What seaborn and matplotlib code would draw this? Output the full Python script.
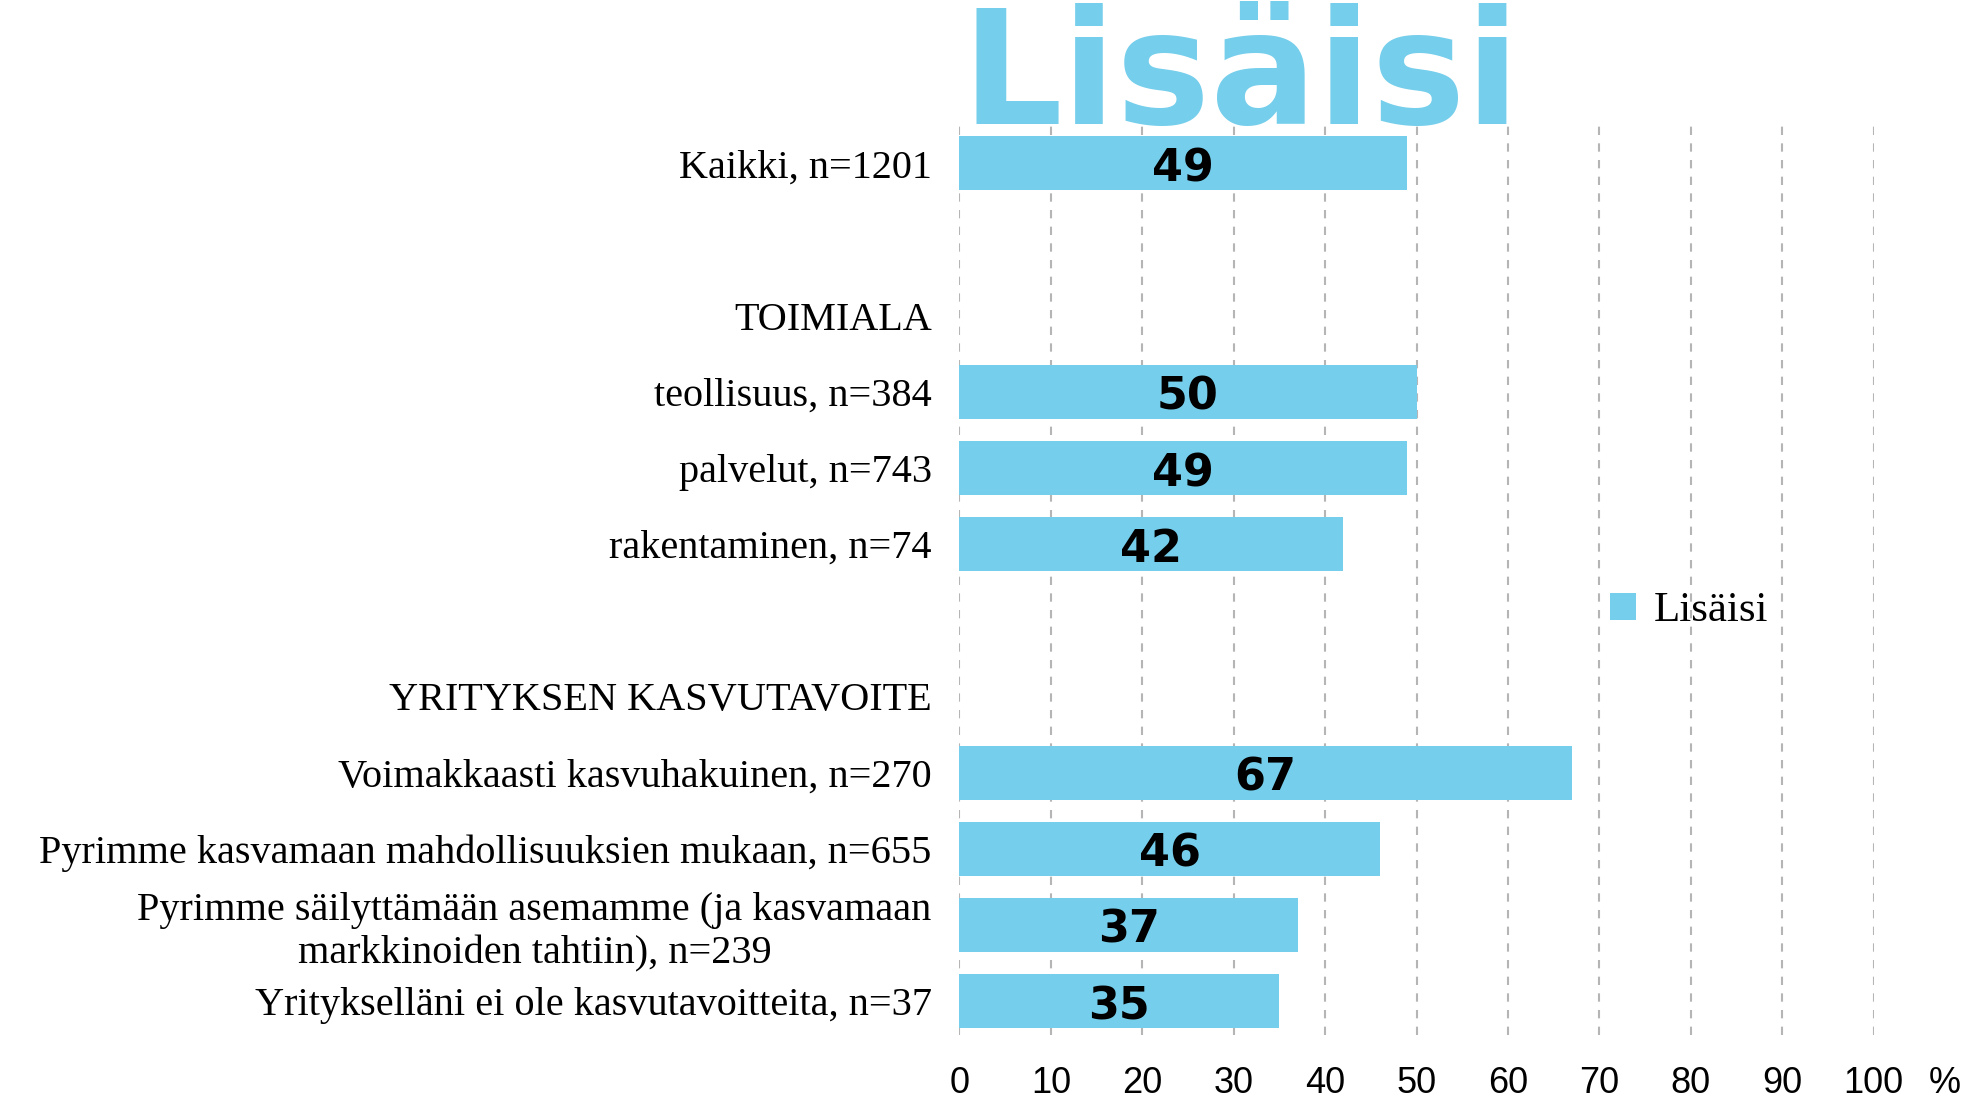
import pandas as pd
import numpy as np
import matplotlib
matplotlib.use("Agg")
import matplotlib.pyplot as plt
import seaborn as sns

# rivit ylhäältä alas (tyhjät rivit ja otsikot ilman palkkia)
rows = [
    "Kaikki, n=1201",
    " ",
    "TOIMIALA",
    "teollisuus, n=384",
    "palvelut, n=743",
    "rakentaminen, n=74",
    "  ",
    "YRITYKSEN KASVUTAVOITE",
    "Voimakkaasti kasvuhakuinen, n=270",
    "Pyrimme kasvamaan mahdollisuuksien mukaan, n=655",
    "Pyrimme säilyttämään asemamme (ja kasvamaan\nmarkkinoiden tahtiin), n=239",
    "Yrityksellläni ei ole kasvutavoitteita, n=37".replace("lll", "ll"),
]
bar_rows = [rows[0], rows[3], rows[4], rows[5], rows[8], rows[9], rows[10], rows[11]]
lisaisi = [49, 50, 49, 42, 67, 46, 37, 35]
ticks = list(range(0, 101, 10))

color = "#75CEEB"

df = pd.DataFrame({"ryhma": bar_rows, "Lisäisi": lisaisi})

fig = plt.figure(figsize=(19.62, 10.99), dpi=100)
ax = fig.add_axes([0.489, 0.058, 0.466, 0.828])

sns.barplot(data=df, x="Lisäisi", y="ryhma", order=rows, color=color,
            width=0.71, orient="h", ax=ax, label="Lisäisi", saturation=1)

for c in ax.containers:
    anns = ax.bar_label(c, labels=[str(v) for v in lisaisi], label_type="center",
                        fontsize=32, fontweight="heavy", family="DejaVu Sans", color="black")
    for a in anns:
        a.xyann = (0, -4)

ax.set_xlim(0, 100)
ax.set_ylim(11.45, -0.5)
ax.set_xticks(ticks)
ax.set_xticklabels([str(t) for t in ticks], fontsize=26, family="Liberation Sans")
ax.tick_params(axis="x", length=0, pad=22)
ax.tick_params(axis="y", length=0, pad=20)
for lab in ax.get_yticklabels():
    lab.set_fontsize(29)
    lab.set_family("Liberation Serif")
    lab.set_multialignment("center")
ax.set_xlabel("")
ax.set_ylabel("")
for s in ax.spines.values():
    s.set_visible(False)
ax.grid(axis="x", color="#b5b5b5", linestyle=(0, (4, 4)), linewidth=1.5)
ax.set_axisbelow(True)

leg = ax.legend(loc="center left", bbox_to_anchor=(0.712, 0.466), frameon=False,
                handlelength=0.6, handleheight=0.6, handletextpad=0.4,
                borderaxespad=0, borderpad=0,
                prop={"family": "Liberation Serif", "size": 31})

fig.text(0.49, 0.887, "Lisäisi", fontsize=114, fontweight="bold",
         family="DejaVu Sans", color=color, ha="left", va="baseline")
fig.text(0.9995, 0.014, "%", fontsize=26, family="Liberation Sans", ha="right", va="center")

fig.savefig("out.png", dpi=100)
